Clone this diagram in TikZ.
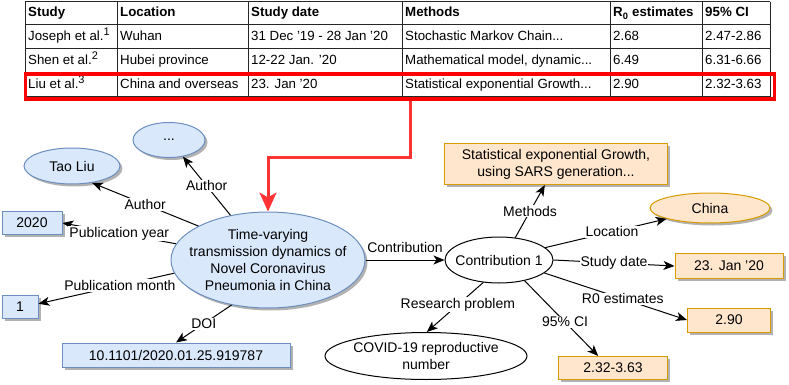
\documentclass[tikz,border=0pt]{standalone}
\usepackage{fontspec}
\setmainfont{Liberation Sans}
\usetikzlibrary{arrows.meta,shapes.geometric,shadows}
\definecolor{bluefill}{HTML}{DAE8FC}
\definecolor{blueline}{HTML}{6C8EBF}
\definecolor{orangefill}{HTML}{FFE6CC}
\definecolor{orangeline}{HTML}{D79B00}
\definecolor{hlred}{HTML}{FF0000}
\definecolor{arrowred}{HTML}{FF3333}
\tikzset{
  cell/.style={anchor=west,inner sep=0pt,text height=10pt,text depth=3pt,font=\fontsize{13.3}{16}\selectfont},
  head/.style={cell,font=\fontsize{13.3}{16}\selectfont\bfseries},
  grid/.style={line width=1pt,black!85},
  shadowed/.style={drop shadow={shadow xshift=2.5pt,shadow yshift=-2.5pt,opacity=0.3,fill=black}},
  bluebox/.style={rectangle,draw=blueline,fill=bluefill,line width=1pt,inner sep=0pt,shadowed},
  blueell/.style={bluebox,ellipse},
  orangebox/.style={rectangle,draw=orangeline,fill=orangefill,line width=1pt,inner sep=0pt,shadowed,align=center},
  orangeell/.style={orangebox,ellipse},
  plainell/.style={ellipse,draw=black,fill=white,line width=1pt,inner sep=0pt,align=center},
  rel/.style={line width=1pt,-{Stealth[length=11pt,width=9pt,inset=3pt]}},
  lbl/.style={fill=white,inner sep=1pt},
  hlbox/.style={draw=hlred,line width=3.2pt,inner sep=0pt},
  hlarrow/.style={draw=arrowred,line width=3pt,-{Stealth[length=19pt,width=17pt,inset=5pt]}}
}
\newcommand{\supnum}[1]{\textsuperscript{\fontsize{11}{12}\selectfont #1}}
\begin{document}
\begin{tikzpicture}[x=1pt,y=-1pt,font=\fontsize{14}{17}\selectfont]
\useasboundingbox (0,0) rectangle (789,385);
% table of studies
\foreach \y in {2,25,49,73,97}{\draw[grid] (25,\y) -- (770,\y);}
\foreach \x in {25,117,248,402,610,702,770}{\draw[grid] (\x,2) -- (\x,97);}
\node[head] (hst) at (28,13.5) {Study}; \node[head] (hlo) at (120,13.5) {Location}; \node[head] (hda) at (251,13.5) {Study date}; \node[head] (hme) at (405,13.5) {Methods}; \node[head] (hre) at (613,13.5) {R\textsubscript{0} estimates}; \node[head] (hci) at (705,13.5) {95\% CI};
\node[cell] (ast) at (28,37) {Joseph et al.\supnum{1}}; \node[cell] (alo) at (120,37) {Wuhan}; \node[cell] (ada) at (251,37) {31 Dec '19 - 28 Jan '20}; \node[cell] (ame) at (405,37) {Stochastic Markov Chain...}; \node[cell] (are) at (613,37) {2.68}; \node[cell] (aci) at (705,37) {2.47-2.86};
\node[cell] (bst) at (28,61) {Shen et al.\supnum{2}}; \node[cell] (blo) at (120,61) {Hubei province}; \node[cell] (bda) at (251,61) {12-22 Jan. '20}; \node[cell] (bme) at (405,61) {Mathematical model, dynamic...}; \node[cell] (bre) at (613,61) {6.49}; \node[cell] (bci) at (705,61) {6.31-6.66};
\node[cell] (cst) at (28,85) {Liu et al.\supnum{3}}; \node[cell] (clo) at (120,85) {China and overseas}; \node[cell] (cda) at (251,85) {23. Jan '20}; \node[cell] (cme) at (405,85) {Statistical exponential Growth...}; \node[cell] (cre) at (613,85) {2.90}; \node[cell] (cci) at (705,85) {2.32-3.63};
\node[hlbox,anchor=north west,minimum width=749,minimum height=25] (hlrow) at (23.5,72.5) {};
% paper node and its properties
\node[blueell,minimum width=194,minimum height=96,inner xsep=-12pt,align=center] (main) at (268,260) {Time-varying\\transmission dynamics of\\Novel Coronavirus\\Pneumonia in China};
\node[blueell,minimum width=72,minimum height=35] (dots) at (169,140) {...};
\node[blueell,minimum width=96,minimum height=36] (tao) at (72,166) {Tao Liu};
\node[bluebox,minimum width=60,minimum height=23] (year) at (32,223) {2020};
\node[bluebox,minimum width=36,minimum height=23] (month) at (20,307) {1};
\node[bluebox,minimum width=228,minimum height=24] (doi) at (176,355) {10.1101/2020.01.25.919787};
% contribution and its values
\node[plainell,minimum width=108,minimum height=46,inner xsep=-6pt] (contrib) at (499,260) {Contribution 1};
\node[orangebox,minimum width=223,minimum height=41] (methods) at (556,164) {Statistical exponential Growth,\\using SARS generation...};
\node[orangeell,minimum width=120,minimum height=30] (china) at (710,208) {China};
\node[orangebox,minimum width=108,minimum height=25] (date) at (729,266) {23. Jan '20};
\node[orangebox,minimum width=83,minimum height=24] (rnull) at (729,320) {2.90};
\node[orangebox,minimum width=109,minimum height=23] (ci) at (613,368) {2.32-3.63};
\node[plainell,minimum width=202,minimum height=47,inner xsep=-2pt] (problem) at (426,356) {COVID-19 reproductive\\number};
% edges
\foreach \A/\B/\L/\p in {main.130/dots.-50/Author/0.5,main.154/tao.-40/Author/0.5,main.170/year.east/Publication year/0.5,main.188/month.10/Publication month/0.4,main.231/doi.north/DOI/0.5,contrib.54/methods.242/Methods/0.5,contrib.15/china.194/Location/0.55,contrib.east/date.west/Study date/0.5,contrib.-16/rnull.west/R0 estimates/0.55,contrib.-39/ci.141/95\% CI/0.55,contrib.235/problem.88/Research problem/0.45}{\draw[rel] (\A) -- node[lbl,pos=\p] {\L} (\B);}
\draw[rel] (main) -- node[above=4pt] {Contribution} (contrib);
% highlight arrow
\coordinate (bend) at (410,157);
\draw[hlarrow] (hlrow.south -| bend) -- (bend) -| (main.north);
\end{tikzpicture}
\end{document}
